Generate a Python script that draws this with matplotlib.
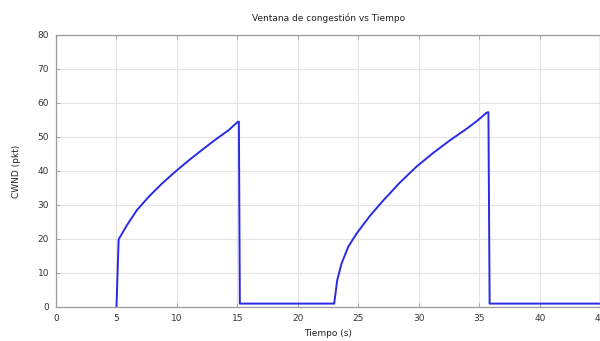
import matplotlib
matplotlib.use("Agg")
import matplotlib.pyplot as plt

# Data (time s, cwnd pkt)
time_s = [5.0, 5.18, 5.87, 6.69, 7.66, 8.76, 9.86, 10.97, 12.07, 13.17, 14.27, 15.04,
          15.12, 15.2,
          23.0, 23.25, 23.61, 24.16, 24.85, 25.95, 27.05, 28.43, 29.81, 31.18,
          32.56, 33.94, 34.8, 35.62, 35.75, 35.85, 45.0]
cwnd_pkt = [0.0, 19.9, 24.1, 28.5, 32.4, 36.3, 39.8, 43.1, 46.2, 49.2, 52.0, 54.5,
            54.5, 1.0,
            1.0, 7.9, 12.8, 17.7, 21.6, 26.8, 31.3, 36.6, 41.3, 45.3,
            49.0, 52.4, 54.7, 57.2, 57.3, 1.0, 1.0]

title = "Ventana de congestión vs Tiempo"
xlabel = "Tiempo (s)"
ylabel = "CWND (pkt)"
xticks = [0, 5, 10, 15, 20, 25, 30, 35, 40, 45]
yticks = [0, 10, 20, 30, 40, 50, 60, 70, 80]

plt.rcParams['font.family'] = ['DejaVu Sans']
fig = plt.figure(figsize=(6.0, 3.41), dpi=100)
ax = fig.add_axes([56/600, 1-307/341, 1.0 - 56/600 + 0.0005, (307-35)/341])

ax.plot(time_s, cwnd_pkt, color='#2a2ae6', lw=1.4, solid_joinstyle='round')

ax.set_xlim(0, 45)
ax.set_ylim(0, 80)
ax.set_xticks(xticks)
ax.set_yticks(yticks)
ax.grid(True, color='#e4e4e4', lw=0.8)
ax.set_axisbelow(True)
for s in ax.spines.values():
    s.set_color('#9a9a9a')
    s.set_linewidth(0.9)
ax.tick_params(direction='in', length=3, width=0.6, colors='#9a9a9a',
               labelcolor='#333333', labelsize=6.5, top=True, right=False, pad=5)
ax.set_title(title, fontsize=6.5, color='#222222', pad=10)
ax.set_xlabel(xlabel, fontsize=6.5, color='#222222', labelpad=4)
ax.set_ylabel(ylabel, fontsize=6.5, color='#222222', labelpad=12)

fig.savefig('out.png', dpi=100)
